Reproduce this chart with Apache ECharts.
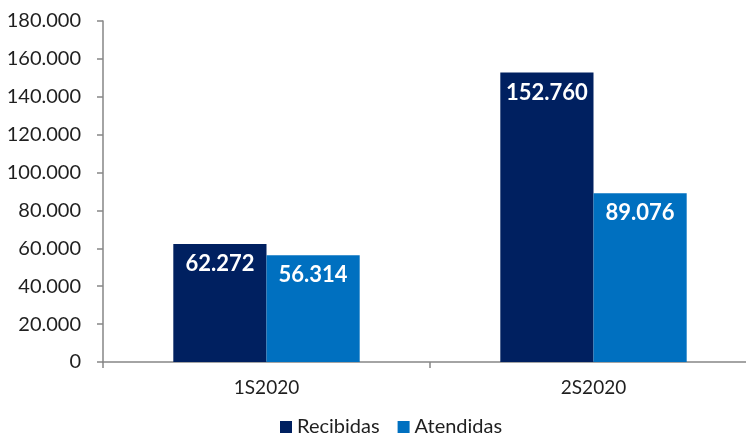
<!DOCTYPE html>
<html>
<head>
<meta charset="utf-8">
<script src="https://cdn.jsdelivr.net/npm/echarts@6/dist/echarts.min.js"></script>
<style>
  html, body { margin: 0; padding: 0; background: #ffffff; overflow: hidden; }
  /* canvas is a little wider than the window so the plot runs off the right edge */
  #chart { width: 758px; height: 444px; }
</style>
</head>
<body>
<div id="chart"></div>
<script>
// Semesters on the category axis
const periods = ['1S2020', '2S2020'];
// Requests received and attended per semester
const recibidas = [62272, 152760];
const atendidas = [56314, 89076];
const seriesNames = ['Recibidas', 'Atendidas'];

// Value axis range
const yMin = 0;
const yMax = 180000;
const yStep = 20000;

const FONT = 'Lato, "Open Sans", sans-serif';
const TEXT = '#1f1f1f';
const AXIS = '#868686';

// Spanish number format: dot as thousands separator
function fmt(v) {
  return String(Math.round(v)).replace(/\B(?=(\d{3})+(?!\d))/g, '.');
}

const chart = echarts.init(document.getElementById('chart'), null, { renderer: 'canvas' });

const barLabel = {
  show: true,
  position: 'insideTop',
  distance: 9,
  color: '#ffffff',
  fontFamily: FONT,
  fontWeight: 'bold',
  fontSize: 22,
  formatter: p => fmt(p.value)
};

chart.setOption({
  animation: false,
  textStyle: { fontFamily: FONT },
  grid: { left: 103, width: 654, top: 21, bottom: 82, containLabel: false },
  legend: {
    data: seriesNames,
    left: 275,
    bottom: 2,
    icon: 'rect',
    itemWidth: 12,
    itemHeight: 12,
    itemGap: 18,
    textStyle: { color: TEXT, fontSize: 20, fontFamily: FONT }
  },
  xAxis: {
    type: 'category',
    data: periods,
    axisLine: { show: true, lineStyle: { color: AXIS, width: 1.5 } },
    axisTick: { show: true, alignWithLabel: false, length: 6, lineStyle: { color: AXIS, width: 1.5 } },
    axisLabel: { color: TEXT, fontSize: 19, fontFamily: FONT, margin: 16 },
    splitLine: { show: false }
  },
  yAxis: {
    type: 'value',
    min: yMin,
    max: yMax,
    interval: yStep,
    axisLine: { show: true, lineStyle: { color: AXIS, width: 1.5 } },
    axisTick: { show: true, length: 6, lineStyle: { color: AXIS, width: 1.5 } },
    axisLabel: { color: TEXT, fontSize: 20, fontFamily: FONT, margin: 22, formatter: v => fmt(v) },
    splitLine: { show: false }
  },
  series: [
    {
      name: seriesNames[0],
      type: 'bar',
      data: recibidas,
      barWidth: '28.5%',
      barGap: '0%',
      itemStyle: { color: '#002060' },
      label: barLabel
    },
    {
      name: seriesNames[1],
      type: 'bar',
      data: atendidas,
      barWidth: '28.5%',
      barGap: '0%',
      itemStyle: { color: '#0070C0' },
      label: barLabel
    }
  ]
});
</script>
</body>
</html>
